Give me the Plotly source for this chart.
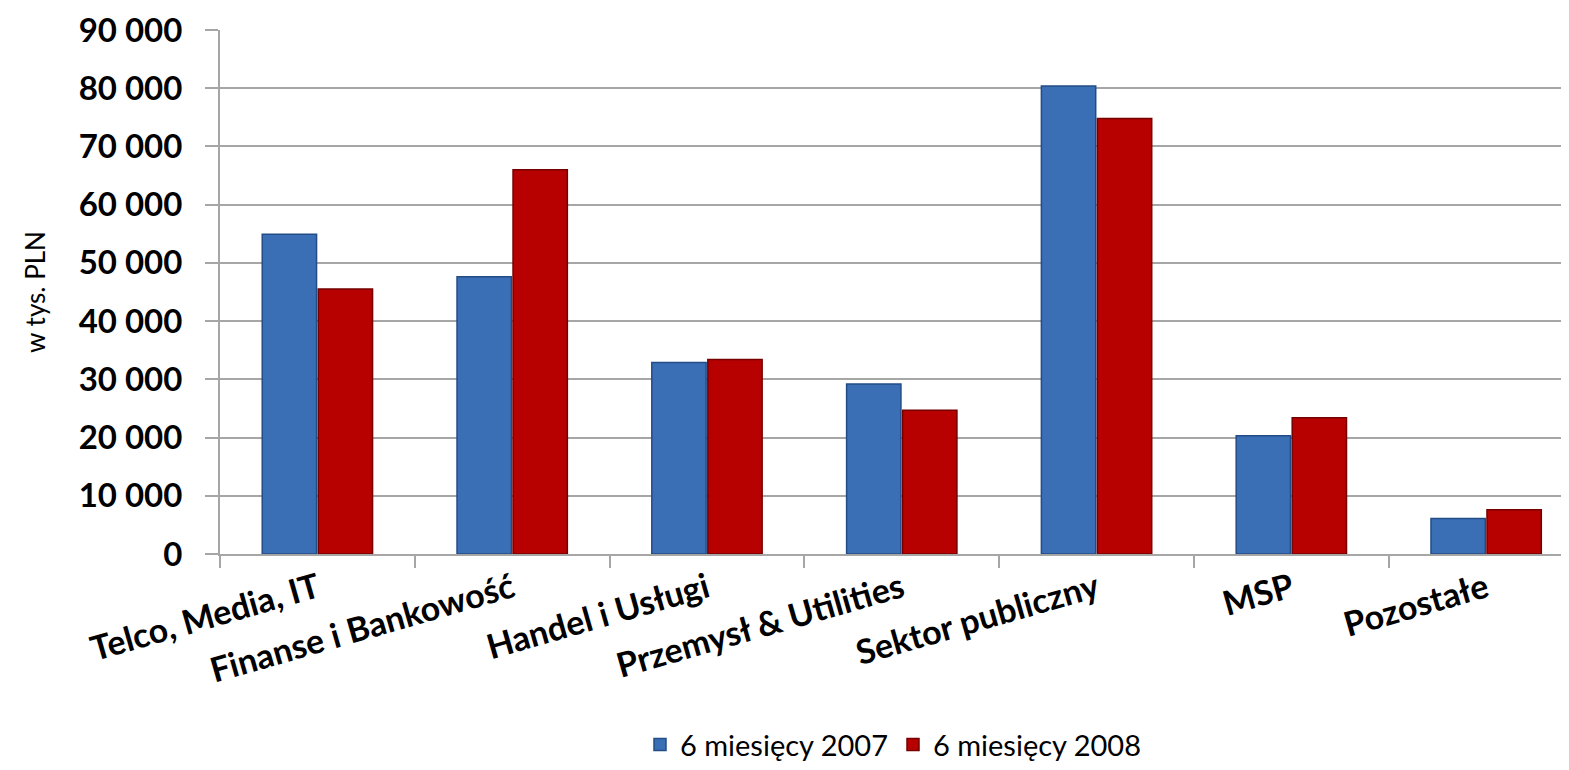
import plotly.graph_objects as go

categories = ["Telco, Media, IT", "Finanse i Bankowość", "Handel i Usługi",
              "Przemysł & Utilities", "Sektor publiczny", "MSP", "Pozostałe"]
series_2007 = [54900, 47600, 32900, 29200, 80400, 20300, 6100]
series_2008 = [45500, 66000, 33400, 24700, 74800, 23400, 7600]
name_2007 = "6 miesięcy 2007"
name_2008 = "6 miesięcy 2008"
y_title = "w tys. PLN"
y_ticks = [0, 10000, 20000, 30000, 40000, 50000, 60000, 70000, 80000, 90000]

FONT = "Lato"
GRID = "#A6A6A6"

fig = go.Figure()
fig.add_trace(go.Bar(x=categories, y=series_2007, name=name_2007,
                     marker=dict(color="#3A6FB6", line=dict(color="#234C86", width=1.5))))
fig.add_trace(go.Bar(x=categories, y=series_2008, name=name_2008,
                     marker=dict(color="#B70000", line=dict(color="#760000", width=1.5))))

fig.update_layout(
    width=1569, height=770,
    margin=dict(l=212, r=11, t=22, b=224, autoexpand=False),
    paper_bgcolor="white", plot_bgcolor="white",
    barmode="group", bargap=0.425, bargroupgap=0.03,
    separators=", ",
    font=dict(family=FONT, color="black"),
    legend=dict(orientation="h", x=0.5, xanchor="center", y=-0.364, yanchor="middle",
                font=dict(family=FONT, size=29, color="black"),
                itemwidth=30, traceorder="normal"),
    showlegend=True,
)
fig.update_yaxes(
    range=[0, 90000], tickvals=y_ticks, tickformat=",d", automargin=False,
    showgrid=True, gridcolor=GRID, gridwidth=2,
    showline=True, linecolor=GRID, linewidth=2,
    ticks="outside", ticklen=13, tickcolor=GRID, tickwidth=2,
    ticklabelstandoff=16,
    tickfont=dict(family=FONT, size=33, color="black", weight="bold"),
    title=dict(text=y_title, font=dict(family=FONT, size=26, color="black"), standoff=26),
    zeroline=False,
)
fig.update_xaxes(
    range=[-0.5, 6.41], automargin=False,
    showline=True, linecolor=GRID, linewidth=2,
    ticks="outside", tickson="boundaries", ticklen=12, tickcolor=GRID, tickwidth=2,
    tickangle=-16,
    tickfont=dict(family=FONT, size=34, color="black", weight="bold"),
)

fig.write_html("out.html")
